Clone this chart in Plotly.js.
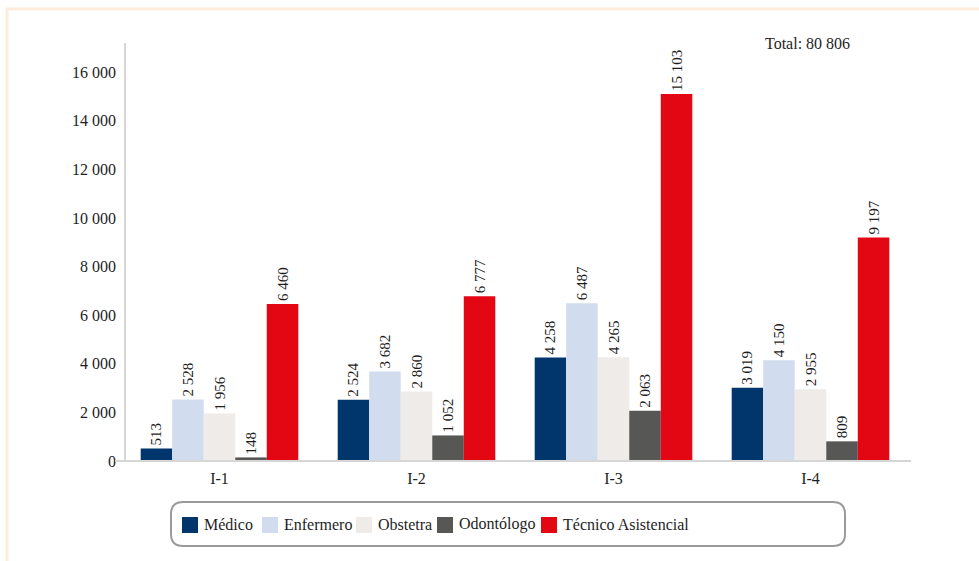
<!DOCTYPE html>
<html>
<head>
<meta charset="utf-8">
<script src="https://cdn.plot.ly/plotly-3.0.1.min.js"></script>
<style>html,body{margin:0;padding:0;background:#fff;}#chart{width:979px;height:561px;}</style>
</head>
<body>
<div id="chart"></div>
<script>
const categories = ["I-1", "I-2", "I-3", "I-4"];
const seriesNames = ["Médico", "Enfermero", "Obstetra", "Odontólogo", "Técnico Asistencial"];
const medico = [513, 2524, 4258, 3019];
const enfermero = [2528, 3682, 6487, 4150];
const obstetra = [1956, 2860, 4265, 2955];
const odontologo = [148, 1052, 2063, 809];
const tecnico = [6460, 6777, 15103, 9197];
const totalLabel = "Total: 80 806";
const seriesColors = ["#00366c", "#d1ddee", "#eeebe8", "#575756", "#e30613"];

const W = 979, H = 561;
const M = {l: 121, r: 70, t: 43, b: 100};
const pw = W - M.l - M.r, ph = H - M.t - M.b;
const px = x => (x - M.l) / pw;
const py = y => (H - M.b - y) / ph;

const FONT = "Liberation Serif";
const TXT = "#1e1e1e";
const values = [medico, enfermero, obstetra, odontologo, tecnico];

const traces = values.map((v, i) => ({
  type: "bar",
  name: seriesNames[i],
  x: categories,
  y: v,
  marker: {color: seriesColors[i], line: {width: 0}},
  texttemplate: "%{y:,}",
  textposition: "outside",
  textangle: -90,
  cliponaxis: false,
  constraintext: "none",
  textfont: {family: FONT, size: 15, color: TXT},
  showlegend: false,
  hoverinfo: "skip"
}));

function roundRect(x0, y0, x1, y1, r) {
  const P = (x, y) => px(x).toFixed(5) + "," + py(y).toFixed(5);
  return "M" + P(x0 + r, y0) + " L" + P(x1 - r, y0) + " Q" + P(x1, y0) + " " + P(x1, y0 + r) +
    " L" + P(x1, y1 - r) + " Q" + P(x1, y1) + " " + P(x1 - r, y1) +
    " L" + P(x0 + r, y1) + " Q" + P(x0, y1) + " " + P(x0, y1 - r) +
    " L" + P(x0, y0 + r) + " Q" + P(x0, y0) + " " + P(x0 + r, y0) + " Z";
}

const shapes = [
  {type: "line", xref: "paper", yref: "paper", x0: px(6), x1: px(979), y0: py(9), y1: py(9),
   line: {color: "#fdebdd", width: 3}, layer: "below"},
  {type: "line", xref: "paper", yref: "paper", x0: px(7), x1: px(7), y0: py(9), y1: py(561),
   line: {color: "#fdebdd", width: 3}, layer: "below"},
  {type: "line", xref: "paper", yref: "paper", x0: px(125), x1: px(125), y0: py(43), y1: py(461),
   line: {color: "#d6d6d6", width: 2}, layer: "above"},
  {type: "line", xref: "paper", yref: "paper", x0: px(115), x1: px(911), y0: py(461), y1: py(461),
   line: {color: "#d6d6d6", width: 2}, layer: "above"},
  {type: "path", xref: "paper", yref: "paper", path: roundRect(171, 502, 845, 546, 12),
   line: {color: "#9a9a9a", width: 2}, fillcolor: "rgba(0,0,0,0)"}
];

// Legend (built from series names and colours)
const legendSquareX = [182, 262, 356, 437, 541];
const annotations = [
  {text: totalLabel, xref: "paper", yref: "paper", x: px(763), y: py(43), xanchor: "left",
   yanchor: "middle", showarrow: false, font: {family: FONT, size: 16, color: TXT}}
];
seriesNames.forEach((name, i) => {
  const sx = legendSquareX[i];
  shapes.push({type: "rect", xref: "paper", yref: "paper",
    x0: px(sx), x1: px(sx + 16), y0: py(533), y1: py(517),
    fillcolor: seriesColors[i], line: {width: 0}});
  annotations.push({text: name, xref: "paper", yref: "paper", x: px(sx + 20), y: py(524),
    xanchor: "left", yanchor: "middle", showarrow: false,
    font: {family: FONT, size: 16, color: TXT}});
});

const layout = {
  width: W, height: H,
  margin: M,
  paper_bgcolor: "#fff", plot_bgcolor: "#fff",
  separators: ", ",
  barmode: "group",
  bargap: 0.2,
  bargroupgap: 0,
  font: {family: FONT, size: 15, color: TXT},
  showlegend: false,
  xaxis: {
    type: "category", showline: false, showgrid: false, zeroline: false,
    ticks: "", tickfont: {family: FONT, size: 16, color: TXT}, ticklabelstandoff: 6
  },
  yaxis: {
    range: [0, 17200], tickvals: [0, 2000, 4000, 6000, 8000, 10000, 12000, 14000, 16000],
    tickformat: ",", showline: false,
    showgrid: false, zeroline: false, ticks: "", ticklabelstandoff: 4,
    tickfont: {family: FONT, size: 16, color: TXT}
  },
  shapes: shapes,
  annotations: annotations
};

Plotly.newPlot("chart", traces, layout, {displayModeBar: false, staticPlot: true});
</script>
</body>
</html>
